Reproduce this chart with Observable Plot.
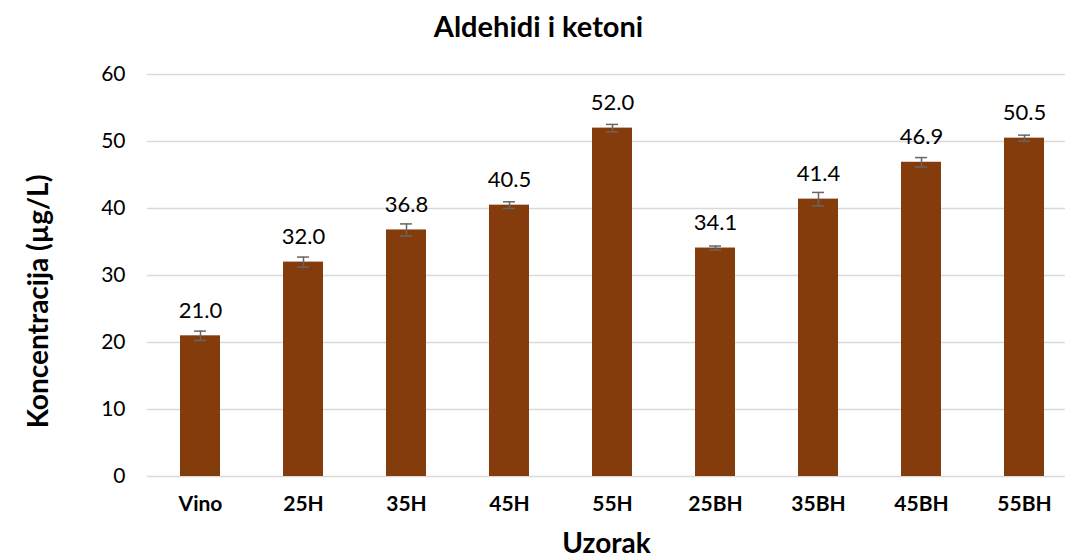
<!DOCTYPE html>
<html>
<head>
<meta charset="utf-8">
<script src="https://cdn.jsdelivr.net/npm/d3@7"></script>
<script src="https://cdn.jsdelivr.net/npm/@observablehq/plot@0.6"></script>
<style>
  html, body { margin: 0; padding: 0; background: #fff; }
  #wrap { width: 1065px; height: 560px; overflow: hidden; font-family: Lato, "Open Sans", sans-serif; }
  #title { height: 55px; line-height: 52px; text-align: center; font-weight: bold; font-size: 29px; color: #000; padding-left: 12px; }
  svg { overflow: hidden; }
</style>
</head>
<body>
<div id="wrap">
  <div id="title">Aldehidi i ketoni</div>
  <div id="chart"></div>
</div>
<script>
const categories = ["Vino", "25H", "35H", "45H", "55H", "25BH", "35BH", "45BH", "55BH"];
const values = [21.0, 32.0, 36.8, 40.5, 52.0, 34.1, 41.4, 46.9, 50.5];
const errors = [0.7, 0.75, 0.9, 0.5, 0.55, 0.3, 1.0, 0.7, 0.45];
const yTicks = [0, 10, 20, 30, 40, 50, 60];

const data = categories.map((c, i) => ({cat: c, value: values[i], err: errors[i]}));

const chart = Plot.plot({
  width: 1065,
  height: 505,
  marginTop: 19,
  marginBottom: 84,
  marginLeft: 147,
  marginRight: 0,
  style: {fontFamily: "Lato, 'Open Sans', sans-serif", color: "#000", background: "#fff"},
  x: {domain: categories, range: [145, 1079], paddingInner: 0.6146, paddingOuter: 0.3073, align: 0.5},
  y: {domain: [0, 60], range: [421, 19]},
  marks: [
    Plot.ruleY(yTicks, {stroke: "#d9d9d9", strokeWidth: 1.3}),
    Plot.barY(data, {x: "cat", y: "value", fill: "#843C0C"}),
    Plot.ruleX(data, {x: "cat", y1: d => d.value - d.err, y2: d => d.value + d.err, stroke: "#666", strokeWidth: 1.5}),
    Plot.tickY(data, {x: "cat", y: d => d.value - d.err, stroke: "#666", strokeWidth: 1.5, insetLeft: 14, insetRight: 14}),
    Plot.tickY(data, {x: "cat", y: d => d.value + d.err, stroke: "#666", strokeWidth: 1.5, insetLeft: 14, insetRight: 14}),
    Plot.text(data, {x: "cat", y: "value", text: d => d.value.toFixed(1), dy: -25, fontSize: 22, fill: "#000"}),
    Plot.axisY({ticks: yTicks, tickSize: 0, tickPadding: 22, fontSize: 21, label: null}),
    Plot.axisX({tickSize: 0, tickPadding: 20, fontSize: 21, fontWeight: "bold", label: null}),
    Plot.text(["Uzorak"], {frameAnchor: "bottom", lineAnchor: "middle", dy: 68, fontSize: 28, fontWeight: "bold", fill: "#000"}),
    Plot.text(["Koncentracija (µg/L)"], {frameAnchor: "left", textAnchor: "middle", lineAnchor: "middle", dx: -108, dy: 26, rotate: -90, fontSize: 28, fontWeight: "bold", fill: "#000"})
  ]
});
document.getElementById("chart").appendChild(chart);
</script>
</body>
</html>
